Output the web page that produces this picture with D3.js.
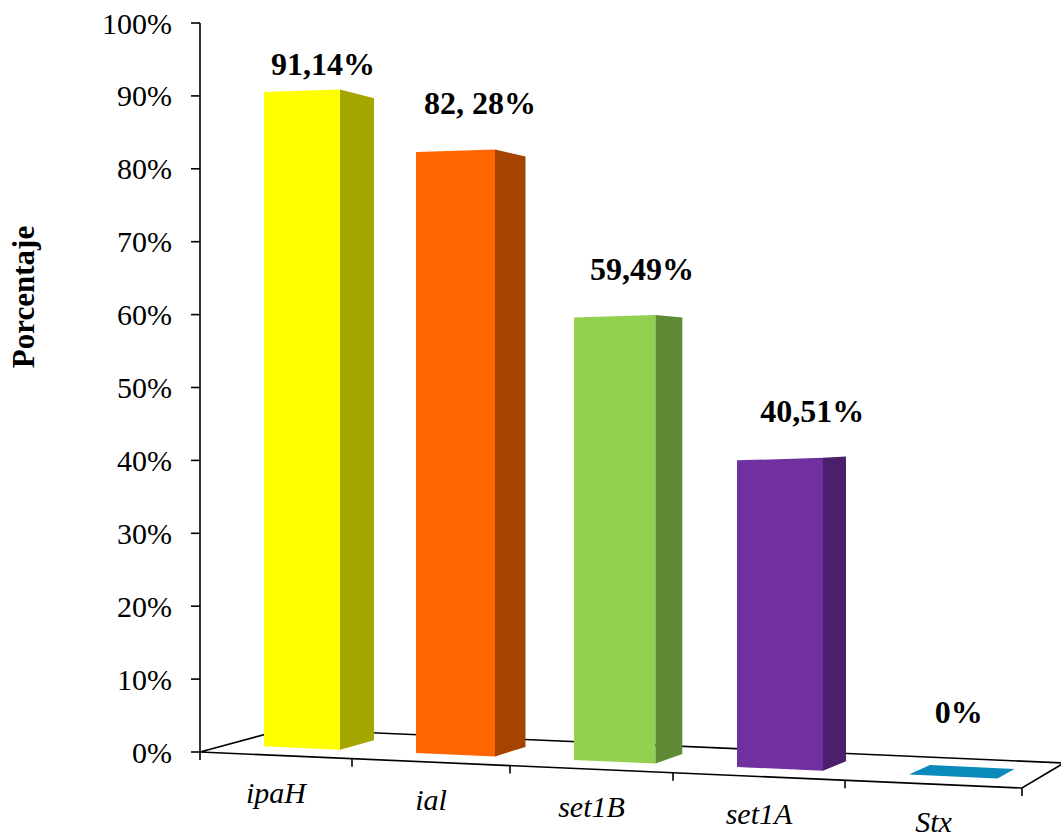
<!DOCTYPE html>
<html>
<head>
<meta charset="utf-8">
<script src="https://cdn.jsdelivr.net/npm/d3@7"></script>
<style>
  html, body { margin: 0; padding: 0; background: #ffffff; }
  svg { display: block; }
</style>
</head>
<body>
<svg id="chart" width="1061" height="839"></svg>
<script>
// ---- data ----
const categories = ["ipaH", "ial", "set1B", "set1A", "Stx"];
const values = [91.14, 82.28, 59.49, 40.51, 0];
const valueLabels = ["91,14%", "82, 28%", "59,49%", "40,51%", "0%"];
const frontColors = ["#FFFF00", "#FF6600", "#92D050", "#7030A0", "#0A8ABA"];
const sideColors = ["#A6A600", "#A54300", "#5F8A35", "#4A1F6B", "#06607F"];
const yTickValues = [0, 10, 20, 30, 40, 50, 60, 70, 80, 90, 100];
const yTickLabels = yTickValues.map(v => v + "%");
const yAxisTitle = "Porcentaje";

// ---- layout ----
const svg = d3.select("#chart");
const serif = "'Liberation Serif', 'Times New Roman', Times, serif";

const y = d3.scaleLinear().domain([0, 100]).range([752, 23]);
// perspective category axis: slot boundaries widen to the right
const xSlot = d3.scaleLinear().domain([0, 1, 2, 3, 4, 5]).range([200, 352, 510, 673, 845, 1022]);
const x0 = xSlot(0), xEnd = xSlot(categories.length);
// front edge of the floor
const floorFront = d3.scaleLinear().domain([x0, xEnd]).range([y(0), y(0) + 36]);
// side-face width shrinks toward the right (perspective)
const sideW = d3.scaleLinear().domain([341, 822]).range([34, 23]);
// bar height in px per 100% grows slightly to the right
const heightPx = d3.scaleLinear().domain([266, 737]).range([718, 757]);

// ---- floor (outline only) ----
const backLeft = [285, 729];
const backRight = [1064, 763];
const floorG = svg.append("g").attr("fill", "none").attr("stroke", "#000").attr("stroke-width", 1.6);
floorG.append("path").attr("d", d3.line()([[x0, floorFront(x0)], [xEnd, floorFront(xEnd)], backRight, backLeft, [x0, floorFront(x0)]]));

// category ticks on front edge
d3.range(categories.length + 1).forEach(i => {
  const xx = xSlot(i);
  floorG.append("line").attr("x1", xx).attr("x2", xx)
    .attr("y1", floorFront(xx)).attr("y2", floorFront(xx) + 8);
});

// ---- y axis ----
const axG = svg.append("g").attr("stroke", "#000").attr("stroke-width", 1.6);
axG.append("line").attr("x1", x0).attr("x2", x0).attr("y1", y(100)).attr("y2", y(0));
yTickValues.forEach(v => {
  axG.append("line").attr("x1", x0 - 9).attr("x2", x0).attr("y1", y(v)).attr("y2", y(v));
});
svg.append("g").selectAll("text").data(yTickValues).join("text")
  .attr("x", 172).attr("y", d => y(d)).attr("dy", "0.35em")
  .attr("text-anchor", "end")
  .attr("font-family", serif).attr("font-size", 30).attr("fill", "#000")
  .text((d, i) => yTickLabels[i]);

svg.append("text")
  .attr("transform", "translate(34,297) rotate(-90)")
  .attr("text-anchor", "middle")
  .attr("font-family", serif).attr("font-size", 31).attr("font-weight", "bold").attr("fill", "#000")
  .text(yAxisTitle);

// ---- bars ----
const barOffset = 64, depthDy = -9.5;
const barsG = svg.append("g");
const labelPos = [];
values.forEach((v, i) => {
  const L = xSlot(i), W = xSlot(i + 1) - xSlot(i);
  const xL = L + barOffset, xR = xL + W * 0.5;
  const sw = sideW(xR);
  const yBl = floorFront(xL) - 8.5, yBr = floorFront(xR) - 8.5;
  const h = v / 100 * heightPx(xL);
  if (v > 0) {
    const yTl = yBl - h, yTr = yBr - h - (yBr - yBl) - 2.5;
    const dyTop = depthDy + 20 * v / 100;
    barsG.append("path").attr("fill", frontColors[i])
      .attr("d", d3.line()([[xL, yBl], [xR, yBr], [xR, yTr], [xL, yTl]]) + "Z");
    barsG.append("path").attr("fill", sideColors[i])
      .attr("d", d3.line()([[xR, yBr], [xR + sw, yBr + depthDy], [xR + sw, yTr + dyTop], [xR, yTr]]) + "Z");
    labelPos.push([L + 0.81 * W, Math.max(yTl - 38, y(100) + 52)]);
  } else {
    const dx = sw;
    barsG.append("path").attr("fill", frontColors[i])
      .attr("d", d3.line()([[xL, yBl], [xR, yBr], [xR + dx - 2, yBr + depthDy], [xL + dx + 2, yBl + depthDy]]) + "Z");
    labelPos.push([(xL + xR + dx) / 2 - 4, yBl + depthDy - 42]);
  }
});

// value labels
svg.append("g").selectAll("text").data(valueLabels).join("text")
  .attr("x", (d, i) => labelPos[i][0]).attr("y", (d, i) => labelPos[i][1])
  .attr("text-anchor", "middle")
  .attr("font-family", serif).attr("font-size", 32).attr("font-weight", "bold").attr("fill", "#000")
  .text(d => d);

// category labels
svg.append("g").selectAll("text").data(categories).join("text")
  .attr("x", (d, i) => (xSlot(i) + xSlot(i + 1)) / 2)
  .attr("y", (d, i) => floorFront((xSlot(i) + xSlot(i + 1)) / 2) + 48)
  .attr("text-anchor", "middle")
  .attr("font-family", serif).attr("font-size", 30).attr("font-style", "italic").attr("fill", "#000")
  .text(d => d);
</script>
</body>
</html>
